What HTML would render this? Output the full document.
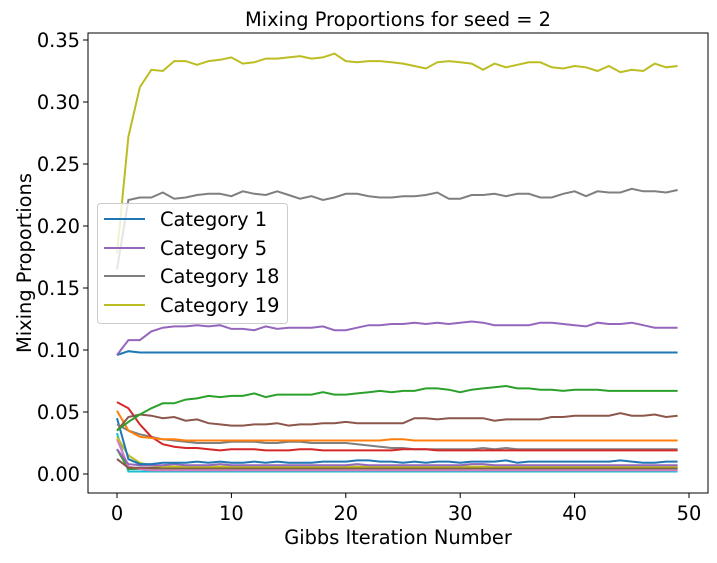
<!DOCTYPE html>
<html><head><meta charset="utf-8"><style>
body{margin:0;background:#fff;}
text{font-family:"DejaVu Sans","Liberation Sans",sans-serif;}
</style></head><body>
<svg id="chart" width="717" height="558" xmlns="http://www.w3.org/2000/svg">
<rect width="717" height="558" fill="#fff"/>
<g id="marks"></g>
<g id="axes"></g>
</svg>
<script>
const iterations = Array.from({length:50},(_, i)=>i);
const cat19 = [0.178,0.272,0.312,0.326,0.325,0.333,0.333,0.330,0.333,0.334,0.336,0.331,0.332,0.335,0.335,0.336,0.337,0.335,0.336,0.339,0.333,0.332,0.333,0.333,0.332,0.331,0.329,0.327,0.332,0.333,0.332,0.331,0.326,0.331,0.328,0.330,0.332,0.332,0.328,0.327,0.329,0.328,0.325,0.329,0.324,0.326,0.325,0.331,0.328,0.329];
const cat18 = [0.165,0.221,0.223,0.223,0.227,0.222,0.223,0.225,0.226,0.226,0.224,0.228,0.226,0.225,0.228,0.225,0.222,0.224,0.221,0.223,0.226,0.226,0.224,0.223,0.223,0.224,0.224,0.225,0.227,0.222,0.222,0.225,0.225,0.226,0.224,0.226,0.226,0.223,0.223,0.226,0.228,0.224,0.228,0.227,0.227,0.230,0.228,0.228,0.227,0.229];
const cat5 = [0.096,0.108,0.108,0.115,0.118,0.119,0.119,0.120,0.119,0.120,0.117,0.117,0.116,0.119,0.117,0.118,0.118,0.118,0.119,0.116,0.116,0.118,0.120,0.120,0.121,0.121,0.122,0.121,0.122,0.121,0.122,0.123,0.122,0.120,0.120,0.120,0.120,0.122,0.122,0.121,0.120,0.119,0.122,0.121,0.121,0.122,0.120,0.118,0.118,0.118];
const cat1 = [0.096,0.099,0.098,0.098,0.098,0.098,0.098,0.098,0.098,0.098,0.098,0.098,0.098,0.098,0.098,0.098,0.098,0.098,0.098,0.098,0.098,0.098,0.098,0.098,0.098,0.098,0.098,0.098,0.098,0.098,0.098,0.098,0.098,0.098,0.098,0.098,0.098,0.098,0.098,0.098,0.098,0.098,0.098,0.098,0.098,0.098,0.098,0.098,0.098,0.098];
const green = [0.035,0.042,0.048,0.053,0.057,0.057,0.060,0.061,0.063,0.062,0.063,0.063,0.065,0.062,0.064,0.064,0.064,0.064,0.066,0.064,0.064,0.065,0.066,0.067,0.066,0.067,0.067,0.069,0.069,0.068,0.066,0.068,0.069,0.070,0.071,0.069,0.069,0.068,0.068,0.067,0.068,0.068,0.068,0.067,0.067,0.067,0.067,0.067,0.067,0.067];
const brown = [0.035,0.046,0.048,0.047,0.045,0.046,0.043,0.044,0.041,0.040,0.039,0.039,0.040,0.040,0.041,0.039,0.040,0.040,0.041,0.041,0.042,0.041,0.041,0.041,0.041,0.041,0.045,0.045,0.044,0.045,0.045,0.045,0.045,0.043,0.044,0.044,0.044,0.044,0.046,0.046,0.047,0.047,0.047,0.047,0.049,0.047,0.047,0.048,0.046,0.047];
const orange = [0.051,0.035,0.030,0.029,0.028,0.028,0.027,0.027,0.027,0.027,0.027,0.027,0.027,0.027,0.027,0.027,0.027,0.027,0.027,0.027,0.027,0.027,0.027,0.027,0.028,0.028,0.027,0.027,0.027,0.027,0.027,0.027,0.027,0.027,0.027,0.027,0.027,0.027,0.027,0.027,0.027,0.027,0.027,0.027,0.027,0.027,0.027,0.027,0.027,0.027];
const red = [0.058,0.053,0.040,0.030,0.024,0.022,0.021,0.021,0.020,0.019,0.020,0.020,0.020,0.019,0.019,0.019,0.020,0.020,0.019,0.019,0.019,0.019,0.019,0.019,0.019,0.020,0.020,0.020,0.019,0.019,0.019,0.019,0.019,0.019,0.019,0.019,0.019,0.019,0.019,0.019,0.019,0.019,0.019,0.019,0.019,0.019,0.019,0.019,0.019,0.019];
const gray2 = [0.040,0.035,0.032,0.030,0.028,0.027,0.026,0.025,0.025,0.025,0.026,0.026,0.026,0.025,0.025,0.026,0.026,0.025,0.025,0.025,0.025,0.024,0.023,0.022,0.021,0.021,0.020,0.020,0.020,0.020,0.020,0.020,0.021,0.020,0.021,0.020,0.020,0.020,0.020,0.020,0.020,0.020,0.020,0.020,0.020,0.020,0.020,0.020,0.020,0.020];
const blue2 = [0.045,0.012,0.008,0.008,0.009,0.009,0.009,0.010,0.009,0.010,0.009,0.009,0.010,0.009,0.010,0.009,0.009,0.009,0.010,0.010,0.010,0.011,0.011,0.010,0.010,0.009,0.010,0.009,0.010,0.010,0.009,0.010,0.010,0.010,0.011,0.009,0.010,0.010,0.010,0.010,0.010,0.010,0.010,0.010,0.011,0.010,0.009,0.009,0.010,0.010];
const purple2 = [0.020,0.008,0.007,0.007,0.007,0.008,0.007,0.007,0.007,0.008,0.007,0.007,0.007,0.007,0.007,0.007,0.007,0.007,0.007,0.007,0.007,0.008,0.007,0.007,0.007,0.007,0.007,0.007,0.007,0.007,0.007,0.008,0.008,0.007,0.007,0.007,0.007,0.007,0.007,0.007,0.007,0.007,0.007,0.007,0.007,0.007,0.007,0.007,0.007,0.007];
const olive2 = [0.030,0.015,0.009,0.007,0.006,0.006,0.006,0.006,0.006,0.006,0.006,0.006,0.006,0.006,0.006,0.006,0.006,0.006,0.006,0.006,0.006,0.006,0.006,0.006,0.006,0.006,0.006,0.006,0.006,0.006,0.006,0.006,0.006,0.006,0.006,0.006,0.006,0.006,0.006,0.006,0.006,0.006,0.006,0.006,0.006,0.006,0.006,0.006,0.006,0.006];
const pink2 = [0.028,0.006,0.004,0.003,0.003,0.003,0.003,0.003,0.003,0.003,0.003,0.003,0.003,0.003,0.003,0.003,0.003,0.003,0.003,0.003,0.003,0.003,0.003,0.003,0.003,0.003,0.003,0.003,0.003,0.003,0.003,0.003,0.003,0.003,0.003,0.003,0.003,0.003,0.003,0.003,0.003,0.003,0.003,0.003,0.003,0.003,0.003,0.003,0.003,0.003];
const cyan2 = [0.033,0.002,0.002,0.002,0.002,0.002,0.002,0.002,0.002,0.002,0.002,0.002,0.002,0.002,0.002,0.002,0.002,0.002,0.002,0.002,0.002,0.002,0.002,0.002,0.002,0.002,0.002,0.002,0.002,0.002,0.002,0.002,0.002,0.002,0.002,0.002,0.002,0.002,0.002,0.002,0.002,0.002,0.002,0.002,0.002,0.002,0.002,0.002,0.002,0.002];
const brown2 = [0.012,0.005,0.005,0.005,0.005,0.005,0.005,0.005,0.005,0.005,0.005,0.005,0.005,0.005,0.005,0.005,0.005,0.005,0.005,0.005,0.005,0.005,0.005,0.005,0.005,0.005,0.005,0.005,0.005,0.005,0.005,0.005,0.005,0.005,0.005,0.005,0.005,0.005,0.005,0.005,0.005,0.005,0.005,0.005,0.005,0.005,0.005,0.005,0.005,0.005];
const green2 = [0.020,0.004,0.004,0.004,0.004,0.004,0.004,0.004,0.004,0.004,0.004,0.004,0.004,0.004,0.004,0.004,0.004,0.004,0.004,0.004,0.004,0.004,0.004,0.004,0.004,0.004,0.004,0.004,0.004,0.004,0.004,0.004,0.004,0.004,0.004,0.004,0.004,0.004,0.004,0.004,0.004,0.004,0.004,0.004,0.004,0.004,0.004,0.004,0.004,0.004];
const xTicks = [0,10,20,30,40,50];
const yTicks = [0,0.05,0.10,0.15,0.20,0.25,0.30,0.35];
const yTickLabels = ["0.00","0.05","0.10","0.15","0.20","0.25","0.30","0.35"];

const X0=88,X1=708,Y0=33,Y1=493;
function x(i){return 117+i*(689-117)/50;}
function y(v){return 474-v*1240;}
const NS="http://www.w3.org/2000/svg";
function mk(tag,attrs,parent){const e=document.createElementNS(NS,tag);for(const k in attrs)e.setAttribute(k,attrs[k]);parent.appendChild(e);return e;}
const marks=document.getElementById('marks'), axes=document.getElementById('axes');
const series=[
 [cyan2,'#17becf','series-other-cyan'],[green2,'#2ca02c','series-other-green'],[pink2,'#e377c2','series-other-pink'],
 [brown2,'#8c564b','series-other-brown'],[olive2,'#bcbd22','series-other-olive'],[purple2,'#9467bd','series-other-purple'],
 [blue2,'#1f77b4','series-other-blue'],[gray2,'#7f7f7f','series-other-gray'],[red,'#d62728','series-red'],
 [orange,'#ff7f0e','series-orange'],[brown,'#8c564b','series-brown'],[green,'#2ca02c','series-green'],
 [cat1,'#1f77b4','series-category-1'],[cat5,'#9467bd','series-category-5'],[cat18,'#7f7f7f','series-category-18'],[cat19,'#bcbd22','series-category-19']];
series.forEach(([d,c,n])=>{
 const p=mk('path',{d:d.map((v,i)=>(i?'L':'M')+x(iterations[i]).toFixed(1)+','+y(v).toFixed(1)).join(''),fill:'none',stroke:c,'stroke-width':2},marks);
 
 
});
const frame=mk('rect',{x:X0,y:Y0,width:X1-X0,height:Y1-Y0,fill:'none',stroke:'#000','stroke-width':1},axes);


xTicks.forEach(t=>{
 mk('line',{x1:x(t),x2:x(t),y1:Y1,y2:Y1+5,stroke:'#000'},axes);
 const tx=mk('text',{x:x(t),y:520,'font-size':19.4,'text-anchor':'middle'},axes);tx.textContent=t;
 
 
});
yTicks.forEach((t,k)=>{
 mk('line',{x1:X0-5,x2:X0,y1:y(t),y2:y(t),stroke:'#000'},axes);
 const tx=mk('text',{x:X0-8,y:y(t)+7,'font-size':19.4,'text-anchor':'end'},axes);tx.textContent=yTickLabels[k];
 
 
});
</script>
<svg style="position:absolute;left:0;top:0" width="717" height="558" xmlns="http://www.w3.org/2000/svg">
<text x="398" y="26" font-size="19.4" text-anchor="middle">Mixing Proportions for seed = 2</text>
<text x="398" y="544" font-size="19.4" text-anchor="middle">Gibbs Iteration Number</text>
<text x="31" y="263" font-size="19.4" text-anchor="middle" transform="rotate(-90 31 263)">Mixing Proportions</text>
<g font-size="19.4">
<rect x="97.5" y="203.5" width="190" height="120" rx="3" fill="#fff" fill-opacity="0.8" stroke="#ccc"/>
<line x1="104" x2="145" y1="219" y2="219" stroke="#1f77b4" stroke-width="2"/><text x="160" y="226">Category 1</text>
<line x1="104" x2="145" y1="248" y2="248" stroke="#9467bd" stroke-width="2"/><text x="160" y="255">Category 5</text>
<line x1="104" x2="145" y1="276" y2="276" stroke="#7f7f7f" stroke-width="2"/><text x="160" y="283">Category 18</text>
<line x1="104" x2="145" y1="305" y2="305" stroke="#bcbd22" stroke-width="2"/><text x="160" y="312">Category 19</text>
</g>
</svg>
</body></html>
